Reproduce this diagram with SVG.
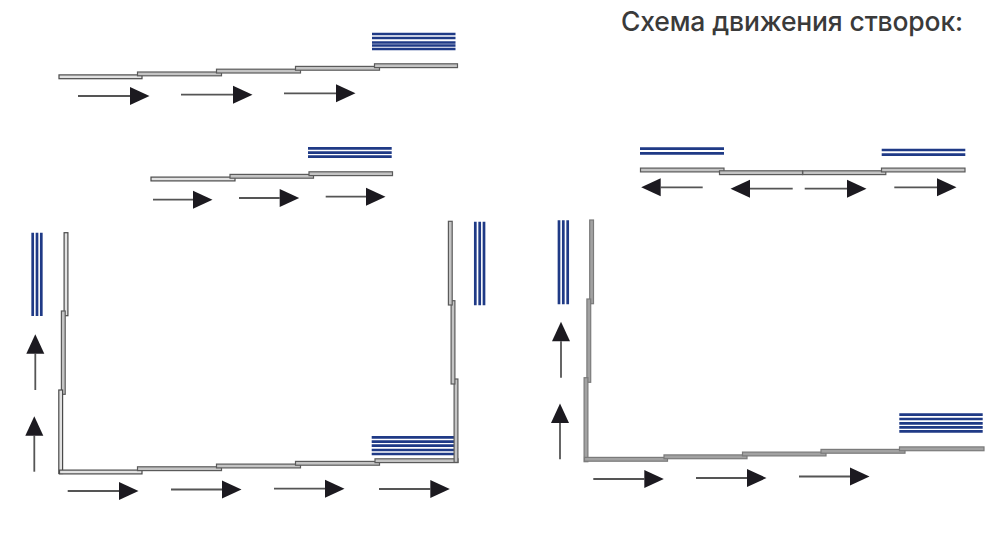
<svg xmlns="http://www.w3.org/2000/svg" width="1000" height="541" viewBox="0 0 1000 541">
<style>
.t{font-family:Inter,"Noto Sans",sans-serif;font-size:26.5px;font-weight:500;fill:#3a3a3a}
.p{fill:#e2e2e2;stroke:#4a4a4a;stroke-width:1.2}
.q{fill:#c4c4c4;stroke:#5a5a5a;stroke-width:1.2}
.g{fill:#a2a2a2;stroke:#7a7a7a;stroke-width:1.2}
.b{stroke:#1f3a86;stroke-width:2.7;fill:none}
.a{stroke:#555;stroke-width:1.8;fill:none;marker-end:url(#h)}
</style>
<defs>
<marker id="h" markerUnits="userSpaceOnUse" markerWidth="20" markerHeight="19" refX="0" refY="9" orient="auto" overflow="visible"><path d="M0,0L19.5,9L0,18Z" fill="#1c1a20"/></marker>
</defs>
<rect width="1000" height="541" fill="#fff"/>
<text id="title" class="t" x="621" y="31" textLength="342">Схема движения створок:</text>
<g id="scheme-top">
<path class="b" d="M372 34H455.5M372 38H455.5M372 42.5H455.5M372 45.5H455.5M372 49H455.5"/>
<rect class="p" x="59" y="74.9" width="83" height="3.8"/>
<rect class="q" x="137.5" y="72" width="84" height="3.8"/>
<rect class="q" x="216.5" y="69.2" width="84" height="3.8"/>
<rect class="q" x="295.5" y="66.4" width="84" height="3.8"/>
<rect class="q" x="374.5" y="63.8" width="83" height="3.8"/>
</g>
<g id="scheme-middle">
<path class="b" d="M308 148.3H391.7M308 152.7H391.7M308 156.7H391.7"/>
<rect class="p" x="151" y="177.1" width="84" height="3.8"/>
<rect class="q" x="230" y="174.4" width="83.5" height="3.8"/>
<rect class="q" x="309" y="171.8" width="83.5" height="3.8"/>
</g>
<g id="scheme-split">
<path class="b" d="M640 148.7H724M640 153.3H724M881.7 150H965.3M881.7 154.7H965.3"/>
<rect class="q" x="640.5" y="168.1" width="83.5" height="3.8"/>
<rect class="q" x="719.5" y="170.8" width="83" height="3.8"/>
<rect class="q" x="802.8" y="170.8" width="83" height="3.8"/>
<rect class="q" x="881.5" y="168.1" width="83.5" height="3.8"/>
</g>
<g id="scheme-left-u">
<path class="b" d="M32.7 232.7V316M37 232.7V316M41.3 232.7V316M475.3 221.7V305.3M479.7 221.7V305.3M484 221.7V305.3M371.7 437.3H454.3M371.7 441.7H454.3M371.7 445.7H454.3M371.7 450H454.3M371.7 454H454.3"/>
<rect class="p" x="64.1" y="232.7" width="3.8" height="83"/>
<rect class="q" x="61.4" y="311" width="3.8" height="83.3"/>
<rect class="p" x="58.8" y="390" width="3.8" height="83.5"/>
<rect class="p" x="59.5" y="470.1" width="82.5" height="3.8"/>
<rect class="q" x="137.5" y="466.8" width="84" height="3.8"/>
<rect class="q" x="216.5" y="464.1" width="84" height="3.8"/>
<rect class="q" x="295.5" y="461.4" width="84" height="3.8"/>
<rect class="q" x="375" y="458.8" width="83" height="3.8"/>
<rect class="q" x="454.1" y="379" width="3.8" height="83.4"/>
<rect class="q" x="451.1" y="300.7" width="3.8" height="83.3"/>
<rect class="q" x="448.4" y="221.3" width="3.8" height="83.7"/>
</g>
<g id="scheme-right-l">
<path class="b" d="M559 220.3V304.3M563.3 220.3V304.3M567.7 220.3V304.3M899.3 414.7H982.7M899.3 419H982.7M899.3 423.3H982.7M899.3 427.3H982.7M899.3 431.3H982.7"/>
<rect class="g" x="589.7" y="220" width="3.8" height="83.7"/>
<rect class="g" x="586.9" y="299" width="3.8" height="83.3"/>
<rect class="g" x="584.1" y="377.7" width="3.8" height="84"/>
<rect class="g" x="584.5" y="457.4" width="83" height="3.8"/>
<rect class="g" x="664" y="454.9" width="83" height="3.8"/>
<rect class="g" x="742.5" y="452.1" width="83.5" height="3.8"/>
<rect class="g" x="821" y="449.4" width="84" height="3.8"/>
<rect class="g" x="899.5" y="446.9" width="84.5" height="3.8"/>
</g>
<g id="connectors">
<path class="a" d="M78 96H130"/>
<path class="a" d="M181 94.7H233"/>
<path class="a" d="M284 93.3H336"/>
<path class="a" d="M153 199.7H193"/>
<path class="a" d="M239 198H279.7"/>
<path class="a" d="M325.7 196.7H366"/>
<path class="a" d="M702.7 187.3H660.7"/>
<path class="a" d="M792.7 188.7H750"/>
<path class="a" d="M804.7 188.7H847"/>
<path class="a" d="M894.3 187.3H937"/>
<path class="a" d="M35.3 390V353.7"/>
<path class="a" d="M34.3 471.7V435.7"/>
<path class="a" d="M67.7 491H119"/>
<path class="a" d="M171 489.5H222"/>
<path class="a" d="M274 488.7H325"/>
<path class="a" d="M379 489H430.3"/>
<path class="a" d="M561 377.7V341.3"/>
<path class="a" d="M560 459.3V423"/>
<path class="a" d="M593.3 479H644.3"/>
<path class="a" d="M696 478H747"/>
<path class="a" d="M799 476.5H850"/>
</g>
</svg>
